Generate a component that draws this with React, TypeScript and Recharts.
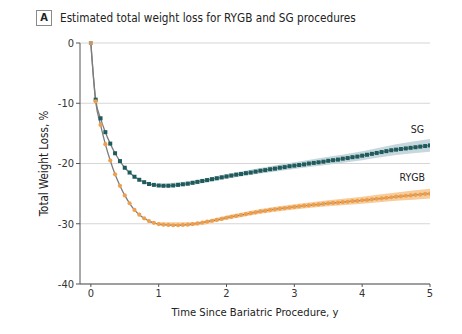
import React from 'react'
import { ComposedChart, Line, Area, XAxis, YAxis, CartesianGrid, Label } from 'recharts'

// years since procedure, one step = 1/14 y
const years = [
  0, 0.071, 0.143, 0.214, 0.286, 0.357, 0.429, 0.5, 0.571, 0.643, 0.714, 0.786, 0.857, 0.929,
  1, 1.071, 1.143, 1.214, 1.286, 1.357, 1.429, 1.5, 1.571, 1.643, 1.714, 1.786, 1.857, 1.929,
  2, 2.071, 2.143, 2.214, 2.286, 2.357, 2.429, 2.5, 2.571, 2.643, 2.714, 2.786, 2.857, 2.929,
  3, 3.071, 3.143, 3.214, 3.286, 3.357, 3.429, 3.5, 3.571, 3.643, 3.714, 3.786, 3.857, 3.929,
  4, 4.071, 4.143, 4.214, 4.286, 4.357, 4.429, 4.5, 4.571, 4.643, 4.714, 4.786, 4.857, 4.929,
  5,
]

const sg = [
  0, -9.4, -12.5, -14.8, -16.7, -18.3, -19.6, -20.7, -21.5, -22.2, -22.7, -23.1, -23.4, -23.55,
  -23.65, -23.7, -23.7, -23.65, -23.55, -23.45, -23.35, -23.2, -23.05, -22.9, -22.75, -22.6, -22.45, -22.3,
  -22.15, -22.0, -21.85, -21.75, -21.6, -21.5, -21.35, -21.2, -21.1, -20.95, -20.85, -20.7, -20.6, -20.45,
  -20.35, -20.25, -20.15, -20.0, -19.9, -19.8, -19.7, -19.55, -19.45, -19.35, -19.2, -19.1, -18.95, -18.85,
  -18.7, -18.55, -18.4, -18.25, -18.1, -17.95, -17.8, -17.7, -17.6, -17.5, -17.4, -17.3, -17.2, -17.1,
  -17.0,
]

const rygb = [
  0, -9.7, -13.6, -16.8, -19.5, -21.8, -23.7, -25.3, -26.6, -27.7, -28.5, -29.1, -29.55, -29.85,
  -30.05, -30.15, -30.2, -30.25, -30.25, -30.2, -30.15, -30.05, -29.95, -29.8, -29.65, -29.5, -29.35, -29.2,
  -29.0, -28.85, -28.7, -28.55, -28.4, -28.25, -28.1, -27.95, -27.85, -27.7, -27.6, -27.5, -27.4, -27.3,
  -27.2, -27.1, -27.0, -26.95, -26.85, -26.8, -26.7, -26.6, -26.55, -26.5, -26.4, -26.35, -26.25, -26.2,
  -26.1, -26.05, -25.95, -25.85, -25.8, -25.7, -25.6, -25.5, -25.45, -25.35, -25.3, -25.2, -25.15, -25.05,
  -25.0,
]

// 95% CI bands, read at half-year steps
const bandYears = [1, 1.5, 2, 2.5, 3, 3.5, 4, 4.5, 5]
const sgLow = [-23.95, -23.55, -22.55, -21.65, -20.9, -20.2, -19.45, -18.6, -18.05]
const sgHigh = [-23.35, -22.85, -21.75, -20.75, -19.8, -18.9, -17.95, -16.8, -15.95]
const rygbLow = [-30.35, -30.35, -29.35, -28.35, -27.65, -27.1, -26.7, -26.2, -25.8]
const rygbHigh = [-29.75, -29.75, -28.65, -27.55, -26.75, -26.1, -25.5, -24.8, -24.2]

const xTicks = [0, 1, 2, 3, 4, 5]
const yTicks = [0, -10, -20, -30, -40]

const rows = years.map((t, i) => {
  const b = bandYears.indexOf(t)
  return {
    t,
    sg: sg[i],
    rygb: rygb[i],
    sgBand: b >= 0 ? [sgLow[b], sgHigh[b]] : undefined,
    rygbBand: b >= 0 ? [rygbLow[b], rygbHigh[b]] : undefined,
  }
})

const FONT = '"Liberation Sans Narrow", "DejaVu Sans Condensed", sans-serif'
const TEAL = '#1e5b5d'
const ORANGE = '#ef9f4c'

const SgDot = (p: any) => {
  if (p.cx == null || p.cy == null) return <g key={p.index} />
  return <rect key={p.index} x={p.cx - 2} y={p.cy - 2} width={4} height={4} fill={p.index === 0 ? '#c49a6c' : TEAL} />
}

const RygbDot = (p: any) => {
  if (p.cx == null || p.cy == null || p.index === 0) return <g key={p.index} />
  return <circle key={p.index} cx={p.cx} cy={p.cy} r={2.1} fill={ORANGE} />
}

export default function App() {
  return (
    <div style={{ position: 'absolute', left: 0, top: 0, width: 462, height: 334, background: '#fff', fontFamily: FONT }}>
      <div style={{ position: 'absolute', left: 36, top: 10, width: 14, height: 14, border: '1px solid #8a8a8a', fontSize: 11, fontWeight: 700, lineHeight: '14px', textAlign: 'center', color: '#222' }}>A</div>
      <div style={{ position: 'absolute', left: 60, top: 10, fontSize: 11.7, lineHeight: '16px', color: '#222' }}>
        Estimated total weight loss for RYGB and SG procedures
      </div>
      <div style={{ position: 'absolute', right: 38, top: 123, fontSize: 10.5, color: '#222' }}>SG</div>
      <div style={{ position: 'absolute', right: 37, top: 171, fontSize: 10.5, color: '#222' }}>RYGB</div>
      <ComposedChart width={462} height={334} data={rows} margin={{ top: 43, right: 32, bottom: 10, left: 40 }}>
        <CartesianGrid horizontal vertical={false} stroke="#d6d6d6" strokeWidth={1.2} />
        <XAxis
          dataKey="t"
          type="number"
          domain={[-0.16, 5]}
          ticks={xTicks}
          allowDataOverflow
          stroke="#555"
          tickSize={3}
          tick={{ fill: '#333', fontSize: 11, fontFamily: FONT }}
          height={40}
        >
          <Label value="Time Since Bariatric Procedure, y" position="insideBottom" offset={8} style={{ fill: '#222', fontSize: 11.2, fontFamily: FONT }} />
        </XAxis>
        <YAxis
          type="number"
          domain={[-40, 0]}
          ticks={yTicks}
          stroke="#555"
          tickSize={4}
          width={40}
          tick={{ fill: '#333', fontSize: 11, fontFamily: FONT }}
        >
          <Label value="Total Weight Loss, %" angle={-90} position="insideLeft" offset={4} style={{ fill: '#222', fontSize: 11.5, fontFamily: FONT, textAnchor: 'middle' }} />
        </YAxis>
        <Area dataKey="sgBand" type="monotone" connectNulls stroke="none" fill="#c6d8dd" fillOpacity={1} isAnimationActive={false} />
        <Area dataKey="rygbBand" type="monotone" connectNulls stroke="none" fill="#f8cd9c" fillOpacity={1} isAnimationActive={false} />
        <Line dataKey="sg" type="monotone" stroke="#7d7d7d" strokeWidth={1.3} dot={SgDot} activeDot={false} isAnimationActive={false} />
        <Line dataKey="rygb" type="monotone" stroke="#7d7d7d" strokeWidth={1.3} dot={RygbDot} activeDot={false} isAnimationActive={false} />
      </ComposedChart>
    </div>
  )
}
